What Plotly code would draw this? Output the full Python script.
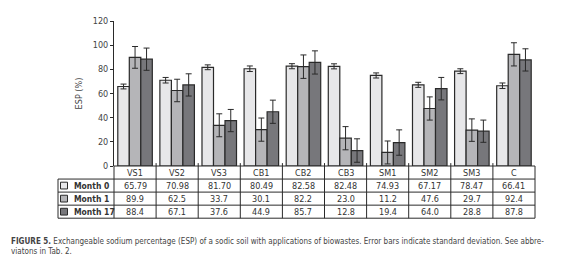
import plotly.graph_objects as go

categories = ["VS1", "VS2", "VS3", "CB1", "CB2", "CB3", "SM1", "SM2", "SM3", "C"]
series_names = ["Month 0", "Month 1", "Month 17"]
month0 = [65.79, 70.98, 81.70, 80.49, 82.58, 82.48, 74.93, 67.17, 78.47, 66.41]
month1 = [89.9, 62.5, 33.7, 30.1, 82.2, 23.0, 11.2, 47.6, 29.7, 92.4]
month17 = [88.4, 67.1, 37.6, 44.9, 85.7, 12.8, 19.4, 64.0, 28.8, 87.8]
sd0 = [2.0, 2.3, 2.0, 2.3, 2.1, 2.1, 2.1, 2.1, 2.0, 2.3]
sd1 = [9.0, 9.3, 9.5, 9.6, 9.7, 9.6, 9.5, 9.6, 9.3, 9.6]
sd17 = [9.2, 9.2, 9.2, 9.6, 9.6, 9.7, 10.5, 9.3, 9.2, 9.2]
y_ticks = [0, 20, 40, 60, 80, 100, 120]
caption = ("<b>FIGURE 5.</b> Exchangeable sodium percentage (ESP) of a sodic soil with applications of biowastes. "
           "Error bars indicate standard deviation. See abbre-<br>viatons in Tab. 2.")

values = [month0, month1, month17]
sds = [sd0, sd1, sd17]
fmts = ["{:.2f}", "{:.1f}", "{:.1f}"]
colors = ["#e7e7e9", "#b5b5b8", "#77777b"]

W, H = 575, 257
L, R, T, B = 106, 48, 8, 99
PW, PH = W - L - R, H - T - B
FONT = "Liberation Sans Narrow, DejaVu Sans Condensed, Arial Narrow, sans-serif"
LINE = "#2a2a2a"


def px_x(p):
    return (p - L) / PW


def px_y(p):
    return (H - B - p) / PH


fig = go.Figure()
for name, vals, sd, col in zip(series_names, values, sds, colors):
    fig.add_trace(go.Bar(
        x=categories, y=vals, name=name,
        marker=dict(color=col, line=dict(color=LINE, width=1.2)),
        error_y=dict(type="data", array=sd, visible=True, color=LINE, thickness=1, width=3),
    ))

shapes = []
annotations = []
row_h = 13.5
table_top = H - B
# header row + 3 data rows
row_tops = [table_top + i * row_h for i in range(5)]
lab_left = px_x(50)

# horizontal lines
shapes.append(dict(type="line", xref="paper", yref="paper", x0=0, x1=1,
                   y0=px_y(row_tops[0]), y1=px_y(row_tops[0]), line=dict(color=LINE, width=1)))
for r in range(1, 5):
    shapes.append(dict(type="line", xref="paper", yref="paper", x0=lab_left, x1=1,
                       y0=px_y(row_tops[r]), y1=px_y(row_tops[r]), line=dict(color=LINE, width=1)))
# vertical lines
for i in range(1, len(categories)):
    shapes.append(dict(type="line", xref="x", yref="paper", x0=i - 0.5, x1=i - 0.5,
                       y0=px_y(row_tops[0] - 3), y1=px_y(row_tops[4]), line=dict(color=LINE, width=1)))
for xe in [0, 1]:
    shapes.append(dict(type="line", xref="paper", yref="paper", x0=xe, x1=xe,
                       y0=px_y(row_tops[0]), y1=px_y(row_tops[4]), line=dict(color=LINE, width=1)))
shapes.append(dict(type="line", xref="paper", yref="paper", x0=lab_left, x1=lab_left,
                   y0=px_y(row_tops[1]), y1=px_y(row_tops[4]), line=dict(color=LINE, width=1)))

# header texts
for i, c in enumerate(categories):
    annotations.append(dict(x=i, xref="x", y=px_y(row_tops[0] + row_h / 2), yref="paper",
                            text=c, showarrow=False, font=dict(family=FONT, size=9, color="#333"),
                            xanchor="center", yanchor="middle"))
# data rows
for r, (name, vals, fmt, col) in enumerate(zip(series_names, values, fmts, colors)):
    yc = row_tops[r + 1] + row_h / 2
    for i, v in enumerate(vals):
        annotations.append(dict(x=i, xref="x", y=px_y(yc), yref="paper",
                                text=fmt.format(v), showarrow=False,
                                font=dict(family=FONT, size=9, color="#333"),
                                xanchor="center", yanchor="middle"))
    shapes.append(dict(type="rect", xref="paper", yref="paper",
                       x0=px_x(52.5), x1=px_x(59.5), y0=px_y(yc - 3.5), y1=px_y(yc + 3.5),
                       fillcolor=col, line=dict(color=LINE, width=1)))
    annotations.append(dict(x=px_x(64), xref="paper", y=px_y(yc), yref="paper",
                            text="<b>" + name + "</b>", showarrow=False,
                            font=dict(family=FONT, size=8.5, color="#333"),
                            xanchor="left", yanchor="middle"))

annotations.append(dict(x=px_x(1), xref="paper", y=px_y(229), yref="paper",
                        text=caption, showarrow=False, align="left",
                        font=dict(family=FONT, size=8, color="#444"),
                        xanchor="left", yanchor="top"))

fig.update_layout(
    width=W, height=H,
    margin=dict(l=L, r=R, t=T, b=B, pad=0),
    paper_bgcolor="white", plot_bgcolor="white",
    barmode="group", bargap=0.18, bargroupgap=0,
    showlegend=False,
    shapes=shapes, annotations=annotations,
    xaxis=dict(range=[-0.5, len(categories) - 0.5], showticklabels=False, ticks="",
               showgrid=False, zeroline=False, showline=False),
    yaxis=dict(range=[0, 120], tickvals=y_ticks, ticks="outside", ticklen=3, tickcolor=LINE,
               showline=True, linecolor=LINE, linewidth=1, showgrid=False, zeroline=False,
               tickfont=dict(family=FONT, size=9, color="#444"),
               title=dict(text="ESP (%)", font=dict(family=FONT, size=9, color="#444"), standoff=8)),
)

fig.write_html("out.html")
